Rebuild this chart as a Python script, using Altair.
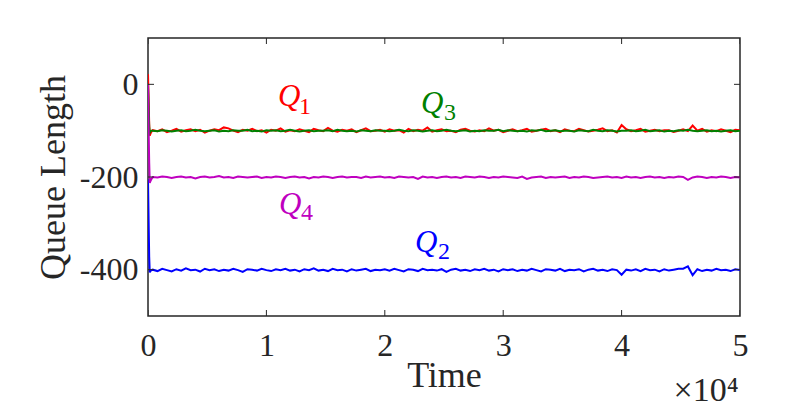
import altair as alt
import pandas as pd

# ---------------- data ----------------
TIME = [0, 50, 100, 150, 200, 300] + list(range(400, 50001, 400))

Q1 = [22, -30, -85, -111, -107, -102,
      -99, -101, -97, -103, -100, -96, -102, -99, -97, -101, -98, -104, -100, -97, -99, -93, -95, -100, -103, -98, -100, -96, -101, -99, -104,
      -98, -100, -95, -102, -99, -101, -97, -100, -103, -96, -99, -101, -94, -100, -102, -98, -100, -97, -103, -99, -95, -101, -100, -98, -102,
      -97, -100, -99, -104, -96, -101, -98, -100, -93, -102, -99, -97, -101, -100, -103, -98, -96, -100, -102, -99, -101, -95, -100, -98, -103,
      -100, -97, -101, -99, -96, -102, -100, -98, -96, -101, -99, -103, -97, -100, -101, -96, -99, -102, -100, -98, -95, -101, -99, -104, -88,
      -97, -101, -99, -96, -102, -100, -98, -101, -99, -99, -103, -100, -97, -101, -89, -100, -96, -102, -99, -101, -97, -100, -103, -98, -99]

Q2 = [-205, -290, -372, -406, -403, -401,
      -400, -403, -398, -401, -404, -399, -402, -397, -401, -400, -404, -398, -401, -399, -403, -400, -402, -398, -401, -405, -399, -400, -402, -398, -401,
      -403, -399, -401, -398, -402, -400, -404, -399, -401, -397, -402, -400, -403, -398, -401, -400, -404, -399, -402, -400, -398, -403, -400, -401, -399,
      -402, -398, -401, -404, -399, -400, -403, -398, -401, -400, -402, -399, -405, -400, -398, -402, -400, -403, -399, -401, -398, -402, -400, -404, -399,
      -401, -399, -403, -400, -402, -398, -401, -404, -399, -400, -402, -398, -403, -400, -401, -399, -404, -400, -398, -402, -400, -403, -399, -401, -411,
      -400, -402, -399, -403, -398, -401, -400, -404, -399, -402, -400, -398, -398, -393, -412, -399, -403, -400, -402, -398, -401, -400, -403, -399, -401]

Q3 = [0, -45, -92, -104, -101, -100,
      -100, -101, -99, -100, -102, -100, -99, -101, -100, -98, -100, -101, -100, -99, -102, -100, -101, -99, -100, -100, -98, -101, -100, -102, -99,
      -100, -99, -101, -100, -98, -100, -102, -100, -99, -101, -100, -100, -99, -101, -98, -100, -101, -100, -102, -99, -100, -101, -99, -100, -100,
      -101, -100, -98, -100, -101, -99, -100, -102, -100, -99, -101, -100, -98, -100, -101, -100, -99, -102, -100, -101, -99, -100, -100, -98, -101,
      -99, -100, -101, -100, -102, -99, -100, -98, -101, -100, -99, -101, -100, -100, -102, -99, -100, -101, -98, -100, -101, -99, -100, -102, -100,
      -100, -99, -101, -100, -98, -101, -100, -99, -102, -100, -101, -99, -100, -98, -100, -101, -100, -99, -101, -100, -102, -100, -99, -101, -100]

Q4 = [0, -95, -168, -213, -209, -204,
      -200, -201, -199, -200, -202, -200, -199, -201, -200, -203, -200, -199, -201, -200, -198, -201, -200, -202, -199, -200, -201, -200, -199, -202, -200,
      -201, -199, -200, -202, -200, -199, -201, -200, -203, -200, -201, -199, -200, -202, -200, -199, -201, -200, -200, -202, -199, -201, -200, -199, -201,
      -200, -202, -199, -200, -201, -200, -204, -199, -201, -200, -202, -200, -199, -201, -200, -202, -199, -200, -201, -199, -200, -202, -200, -201, -199,
      -200, -201, -202, -199, -204, -201, -200, -199, -202, -200, -201, -200, -199, -202, -200, -201, -199, -200, -202, -201, -200, -199, -201, -200, -202,
      -199, -201, -200, -202, -200, -199, -201, -200, -202, -200, -201, -199, -200, -206, -201, -199, -200, -202, -200, -201, -199, -200, -202, -200, -201]

SERIES = [Q1, Q2, Q3, Q4]
COLORS = ["#FF0000", "#0000FF", "#008000", "#BF00BF"]
SUBS = ["1", "2", "3", "4"]

# label anchors in data units (time, queue length)
Q_T = [10980, 22550, 23060, 11060]
Q_V = [-47, -362, -62, -280]
SUB_T = [12750, 24490, 25000, 12920]
SUB_V = [-64, -377, -77, -293]

TICKS_X = [0, 10000, 20000, 30000, 40000, 50000]
TICKS_Y = [-400, -200, 0]
X_DOMAIN = [0, 50000]
Y_DOMAIN = [-500, 100]

# ---------------- styling ----------------
W, H = 592, 278
FONT = "Liberation Serif"
INK = "#262626"

xs = alt.Scale(domain=X_DOMAIN, nice=False, zero=False)
ys = alt.Scale(domain=Y_DOMAIN, nice=False, zero=False)

frames = [pd.DataFrame({"t": TIME, "v": s}) for s in SERIES]

x_main = alt.Axis(orient="bottom", values=TICKS_X, labelExpr="datum.value / 10000",
                  ticks=False, tickSize=0, domain=False, grid=False,
                  labelFont=FONT, labelFontSize=32, labelColor=INK,
                  labelBaseline="alphabetic", labelPadding=39, labelAlign="center",
                  labelFlush=False, labelOverlap=False,
                  title="Time", titleFont=FONT, titleFontSize=36, titleFontWeight="normal",
                  titleColor=INK, titleX=W / 2, titleY=70, titleBaseline="alphabetic",
                  titleAlign="center")
y_main = alt.Axis(orient="left", values=TICKS_Y, labelExpr="toString(datum.value)",
                  ticks=False, tickSize=0, domain=False, grid=False,
                  labelFont=FONT, labelFontSize=32, labelColor=INK,
                  labelBaseline="middle", labelAlign="right", labelPadding=10,
                  labelFlush=False, labelOverlap=False,
                  title="Queue Length", titleFont=FONT, titleFontSize=36,
                  titleFontWeight="normal", titleColor=INK, titleAngle=270,
                  titleX=-84, titleY=H / 2, titleBaseline="alphabetic", titleAlign="center")

# axis that only carries the exponent note
x_exp = alt.Axis(orient="bottom", values=TICKS_X, ticks=False, labels=False,
                 domain=False, grid=False,
                 title="×10⁴", titleFont=FONT, titleFontSize=34,
                 titleFontWeight="normal", titleColor=INK,
                 titleX=590, titleY=84, titleAlign="right", titleBaseline="alphabetic")

layers = []
for i, (df, col) in enumerate(zip(frames, COLORS)):
    xa = x_main if i == 0 else None
    ya = y_main if i == 0 else None
    layers.append(
        alt.Chart(df).mark_line(strokeWidth=2, clip=True).encode(
            x=alt.X("t:Q", scale=xs, axis=xa),
            y=alt.Y("v:Q", scale=ys, axis=ya),
            color=alt.value(col),
        )
    )

exp_layer = alt.Chart(frames[0]).mark_line(strokeOpacity=0).encode(
    x=alt.X("t:Q", scale=xs, axis=x_exp),
    y=alt.Y("v:Q", scale=ys, axis=None),
)

# inward tick marks on all four sides (half of each tick is clipped away)
xt_df = pd.DataFrame({"t": TICKS_X * 2,
                      "v": [Y_DOMAIN[0]] * len(TICKS_X) + [Y_DOMAIN[1]] * len(TICKS_X)})
yt_df = pd.DataFrame({"t": [X_DOMAIN[0]] * len(TICKS_Y) + [X_DOMAIN[1]] * len(TICKS_Y),
                      "v": TICKS_Y * 2})
x_ticks = alt.Chart(xt_df).mark_tick(orient="vertical", size=12, thickness=1,
                                     color=INK, clip=True, opacity=1).encode(
    x=alt.X("t:Q", scale=xs, axis=None),
    y=alt.Y("v:Q", scale=ys, axis=None),
)
y_ticks = alt.Chart(yt_df).mark_tick(orient="horizontal", size=12, thickness=1,
                                     color=INK, clip=True, opacity=1).encode(
    x=alt.X("t:Q", scale=xs, axis=None),
    y=alt.Y("v:Q", scale=ys, axis=None),
)

lab_q = pd.DataFrame({"t": Q_T, "v": Q_V, "txt": ["Q"] * 4, "c": COLORS})
lab_s = pd.DataFrame({"t": SUB_T, "v": SUB_V, "txt": SUBS, "c": COLORS})

q_text = alt.Chart(lab_q).mark_text(align="left", baseline="alphabetic", font=FONT,
                                    fontStyle="italic", fontSize=31).encode(
    x=alt.X("t:Q", scale=xs, axis=None),
    y=alt.Y("v:Q", scale=ys, axis=None),
    text="txt:N",
    color=alt.Color("c:N", scale=None),
)
s_text = alt.Chart(lab_s).mark_text(align="left", baseline="alphabetic", font=FONT,
                                    fontSize=24).encode(
    x=alt.X("t:Q", scale=xs, axis=None),
    y=alt.Y("v:Q", scale=ys, axis=None),
    text="txt:N",
    color=alt.Color("c:N", scale=None),
)

chart = alt.layer(*layers, exp_layer, x_ticks, y_ticks, q_text, s_text).resolve_axis(
    x="independent", y="independent"
).properties(
    width=W, height=H,
    autosize=alt.AutoSizeParams(type="none"),
    padding={"left": 140, "top": 30, "right": 50, "bottom": 98},
    background="white",
).configure_view(stroke=INK, strokeWidth=1.5)

chart.save("out.html", embed_options={"renderer": "svg", "actions": False})
